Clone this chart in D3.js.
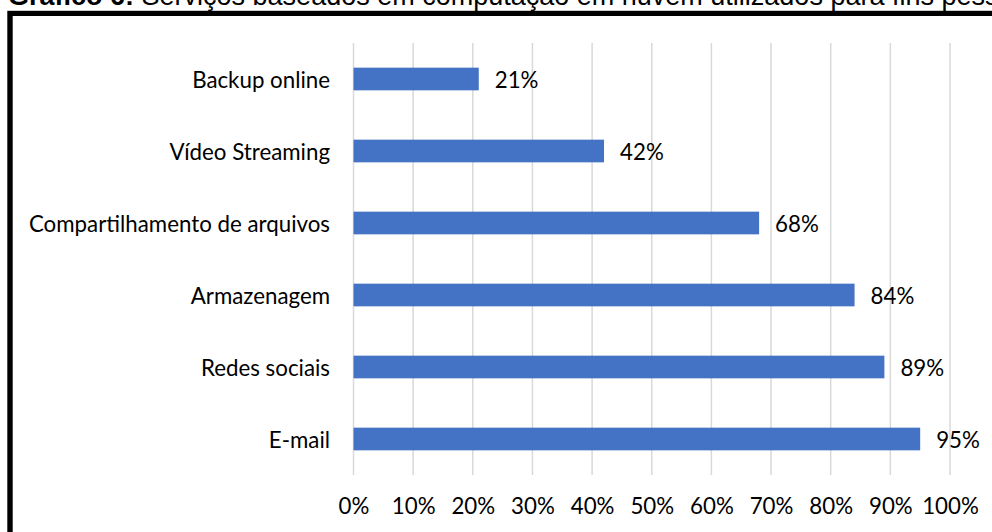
<!DOCTYPE html>
<html>
<head>
<meta charset="utf-8">
<script src="https://cdn.jsdelivr.net/npm/d3@7"></script>
<style>
  html, body { margin: 0; padding: 0; background: #fff; }
  svg { display: block; }
</style>
</head>
<body>
<svg id="chart" width="992" height="532"></svg>
<script>
// Services (top to bottom) and share of respondents using each
const categories = ["Backup online", "Vídeo Streaming", "Compartilhamento de arquivos", "Armazenagem", "Redes sociais", "E-mail"];
const values = [0.21, 0.42, 0.68, 0.84, 0.89, 0.95];
const tickValues = [0, 0.1, 0.2, 0.3, 0.4, 0.5, 0.6, 0.7, 0.8, 0.9, 1.0];
const titleBold = "Gráfico 6:";
const titleRest = " Serviços baseados em computação em nuvem utilizados para fins pessoais";

const svg = d3.select("#chart");
const labelFont = "Lato, 'Open Sans', sans-serif";
const labelSize = 22.3;

// Title above the frame
const title = svg.append("text")
  .attr("x", 8).attr("y", 5)
  .attr("font-family", "'Liberation Sans', Arial, sans-serif")
  .attr("font-size", 27)
  .attr("fill", "#000");
title.append("tspan").attr("font-weight", "bold").text(titleBold);
title.append("tspan").text(titleRest);

// Thick black frame around the chart
svg.append("rect").attr("x", 7.3).attr("y", 10.8).attr("width", 1100).attr("height", 700).attr("fill", "#000");
svg.append("rect").attr("x", 12.7).attr("y", 16).attr("width", 1100).attr("height", 700).attr("fill", "#fff");

const x = d3.scaleLinear().domain([0, 1]).range([353.5, 950]);
const y = d3.scaleBand().domain(categories).range([43, 475]).paddingInner(0.685).paddingOuter(0.3425);

// Vertical gridlines
svg.append("g").selectAll("line").data(tickValues).join("line")
  .attr("x1", d => x(d)).attr("x2", d => x(d))
  .attr("y1", 43).attr("y2", 475)
  .attr("stroke", "#d9d9d9").attr("stroke-width", 1.5);

// Bottom axis tick labels
const xAxis = d3.axisBottom(x).tickValues(tickValues).tickFormat(d3.format(".0%")).tickSize(0).tickPadding(0);
const gx = svg.append("g").attr("transform", "translate(0,506)").call(xAxis);
gx.select(".domain").remove();
gx.selectAll("text")
  .attr("dy", "0.35em")
  .attr("font-family", labelFont).attr("font-size", labelSize).attr("fill", "#000");

// Category labels on the left
const yAxis = d3.axisLeft(y).tickSize(0).tickPadding(0);
const gy = svg.append("g").attr("transform", "translate(330,1.5)").call(yAxis);
gy.select(".domain").remove();
gy.selectAll("text")
  .attr("font-family", labelFont).attr("font-size", labelSize).attr("fill", "#000");

// Bars
svg.append("g").selectAll("rect").data(categories).join("rect")
  .attr("x", x(0))
  .attr("y", d => y(d))
  .attr("width", (d, i) => x(values[i]) - x(0))
  .attr("height", y.bandwidth())
  .attr("fill", "#4472c4");

// Value labels after each bar
svg.append("g").selectAll("text").data(categories).join("text")
  .attr("x", (d, i) => x(values[i]) + 16)
  .attr("y", d => y(d) + y.bandwidth() / 2 + 1.5)
  .attr("dy", "0.35em")
  .attr("font-family", labelFont).attr("font-size", labelSize).attr("fill", "#000")
  .text((d, i) => d3.format(".0%")(values[i]));
</script>
</body>
</html>
